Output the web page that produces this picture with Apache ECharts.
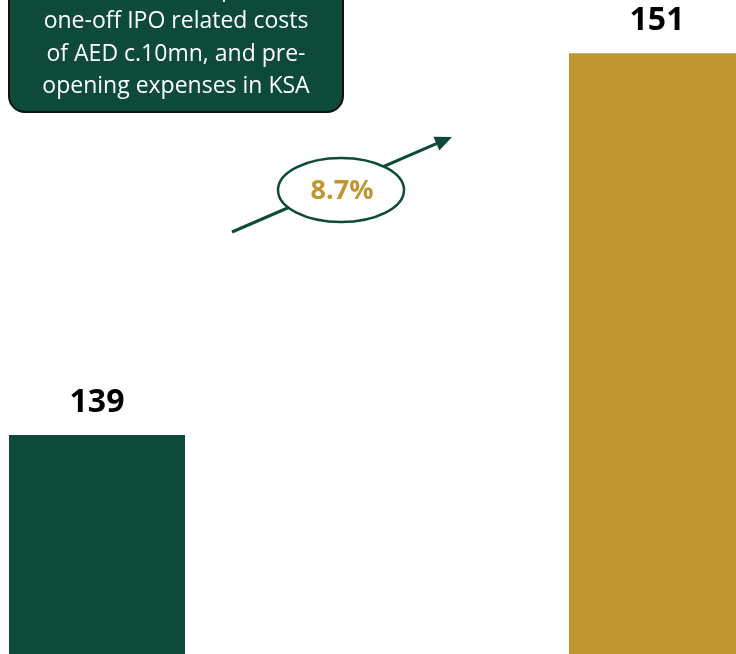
<!DOCTYPE html>
<html>
<head>
<meta charset="utf-8">
<script src="https://cdn.jsdelivr.net/npm/echarts@6/dist/echarts.min.js"></script>
<style>
html,body{margin:0;padding:0;background:#fff;}
#chart{width:736px;height:654px;}
</style>
</head>
<body>
<div id="chart"></div>
<script>
const categories = ['Period 1', 'Period 2'];
const values = [139, 151];
const barColors = ['#0d4a39', '#c09632'];
const growthLabel = '8.7%';
const noteLines = ['Includes the impact of', 'one-off IPO related costs', 'of AED c.10mn, and pre-', 'opening expenses in KSA'];

const chart = echarts.init(document.getElementById('chart'));
const green = '#0d4a39';
const gold = '#c09632';

// arrow geometry
const ax0 = 232, ay0 = 232, ax1 = 452, ay1 = 137;
const dx = ax1 - ax0, dy = ay1 - ay0, len = Math.hypot(dx, dy);
const ux = dx / len, uy = dy / len, px = -uy, py = ux;
const hl = 17, hw = 7.5;
const bx = ax1 - hl * ux, by = ay1 - hl * uy;

const graphics = [
  {
    type: 'rect', z: 10,
    shape: { x: 9, y: -40, width: 334, height: 152, r: 16 },
    style: { fill: green, stroke: '#111', lineWidth: 2 }
  },
  {
    type: 'line', z: 10,
    shape: { x1: ax0, y1: ay0, x2: bx + ux * 2, y2: by + uy * 2 },
    style: { stroke: green, lineWidth: 3 }
  },
  {
    type: 'polygon', z: 10,
    shape: { points: [[ax1, ay1], [bx + px * hw, by + py * hw], [bx - px * hw, by - py * hw]] },
    style: { fill: green }
  },
  {
    type: 'ellipse', z: 11,
    shape: { cx: 341, cy: 190, rx: 63, ry: 32 },
    style: { fill: '#fff', stroke: green, lineWidth: 2.5 }
  },
  {
    type: 'text', z: 12,
    x: 342, y: 191,
    style: { text: growthLabel, fill: gold, font: 'bold 27px "Open Sans"', align: 'center', verticalAlign: 'middle' }
  }
];
noteLines.forEach((t, i) => {
  graphics.push({
    type: 'text', z: 12,
    x: 176, y: -11 + i * 32.5,
    style: { text: t, fill: '#fff', font: '23px "Open Sans"', align: 'center', verticalAlign: 'middle' }
  });
});

chart.setOption({
  animation: false,
  grid: { left: 0, right: 0, top: 0, bottom: 0, containLabel: false, outerBoundsMode: 'none' },
  xAxis: {
    type: 'value', min: -97 / 560, max: -97 / 560 + 736 / 560,
    show: false, splitLine: { show: false }
  },
  yAxis: {
    type: 'value', min: 132.12, max: 152.67,
    show: false, splitLine: { show: false }
  },
  series: [{
    type: 'bar',
    data: values.map((v, i) => ({ name: categories[i], value: [i, v], itemStyle: { color: barColors[i] } })),
    barWidth: 176,
    label: {
      show: true, position: 'top', distance: 16,
      formatter: p => String(p.value[1]),
      color: '#000', fontWeight: 'bold', fontSize: 32, fontFamily: 'Open Sans'
    }
  }],
  graphic: graphics
});
</script>
</body>
</html>
